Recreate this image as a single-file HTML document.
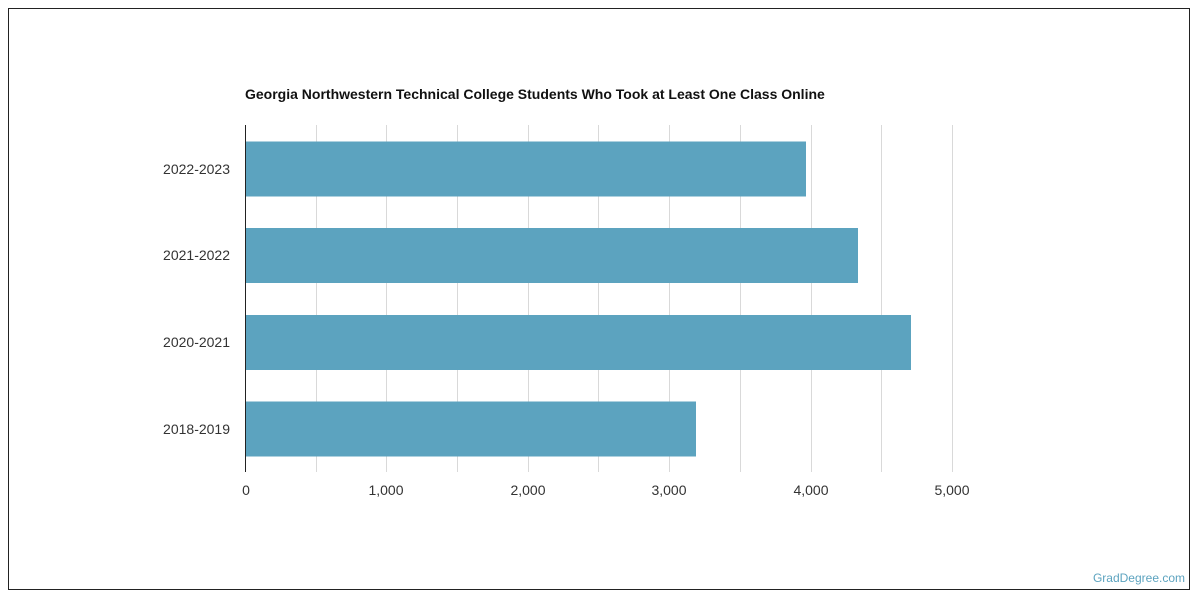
<!DOCTYPE html>
<html><head><meta charset="utf-8"><style>
body{margin:0;background:#fff;}
svg{display:block;font-family:"Liberation Sans",sans-serif;}
</style></head><body>
<svg width="1200" height="600" xmlns="http://www.w3.org/2000/svg">
<rect x="8.5" y="8.5" width="1181" height="581" fill="#fff" stroke="#222" stroke-width="1"/>
<text x="245" y="99" font-size="14" font-weight="bold" fill="#111">Georgia Northwestern Technical College Students Who Took at Least One Class Online</text>
<g stroke="#d9d9d9" stroke-width="1">
<line x1="316.5" y1="125" x2="316.5" y2="472"/>
<line x1="386.5" y1="125" x2="386.5" y2="472"/>
<line x1="457.5" y1="125" x2="457.5" y2="472"/>
<line x1="528.5" y1="125" x2="528.5" y2="472"/>
<line x1="598.5" y1="125" x2="598.5" y2="472"/>
<line x1="669.5" y1="125" x2="669.5" y2="472"/>
<line x1="740.5" y1="125" x2="740.5" y2="472"/>
<line x1="811.5" y1="125" x2="811.5" y2="472"/>
<line x1="881.5" y1="125" x2="881.5" y2="472"/>
<line x1="952.5" y1="125" x2="952.5" y2="472"/>
</g>
<g fill="#5ca3bf">
<rect x="245" y="141.5" width="561" height="55"/>
<rect x="245" y="228" width="613" height="55"/>
<rect x="245" y="315" width="666" height="55"/>
<rect x="245" y="401.5" width="451" height="55"/>
</g>
<line x1="245.5" y1="125" x2="245.5" y2="472" stroke="#222" stroke-width="1"/>
<g font-size="14" fill="#333" text-anchor="end">
<text x="230" y="174">2022-2023</text>
<text x="230" y="260">2021-2022</text>
<text x="230" y="347">2020-2021</text>
<text x="230" y="434">2018-2019</text>
</g>
<g font-size="14" fill="#333" text-anchor="middle">
<text x="246" y="495">0</text>
<text x="386" y="495">1,000</text>
<text x="528" y="495">2,000</text>
<text x="669" y="495">3,000</text>
<text x="811" y="495">4,000</text>
<text x="952" y="495">5,000</text>
</g>
<text x="1185" y="582" font-size="12" fill="#5ca3bf" text-anchor="end">GradDegree.com</text>
</svg>
</body></html>
